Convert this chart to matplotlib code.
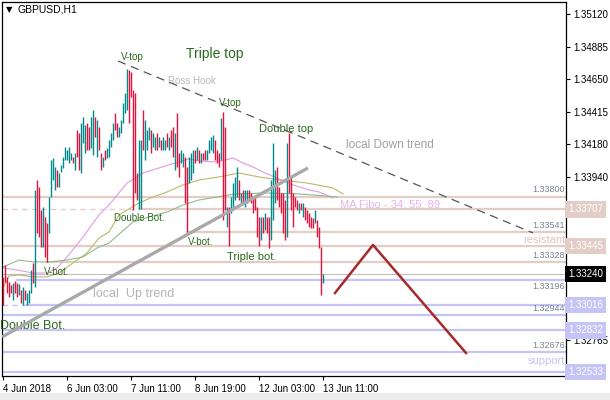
import matplotlib
matplotlib.use('Agg')
import matplotlib.pyplot as plt
import matplotlib.transforms as mtransforms
from matplotlib.patches import Rectangle

plt.rcParams['font.family'] = ['Liberation Sans', 'DejaVu Sans']
plt.rcParams['lines.scale_dashes'] = False

# H1 bars, GBPUSD
bar_dir = list("rrrrrtrrtr" "trtttrtrrr" "trrttttrtt" "tttttrtrrt" "ttrrttrtrr"
               "trttttrrtt" "tttrrrrrtt" "rtttrttrtr" "ttrtrrtrrt" "trrtttrtrt"
               "rrttttrrrt" "rrtrttttrt" "rttrrrrrrt" "rtrrtttrrr" "rrtrrrrrtr"
               "trrrrrtrrr" "t")

highs = [1.33219, 1.33305, 1.33219, 1.33182, 1.33161, 1.33175, 1.33190, 1.33175, 1.33168, 1.33125,
         1.33146, 1.33125, 1.33103, 1.33125, 1.33269, 1.33320, 1.33848, 1.33920, 1.33869, 1.33703,
         1.33725, 1.33652, 1.33609, 1.33797, 1.34064, 1.34079, 1.34014, 1.33992, 1.33970, 1.34028,
         1.34086, 1.34158, 1.34137, 1.34158, 1.34115, 1.34086, 1.34115, 1.34281, 1.34260, 1.34332,
         1.34375, 1.34318, 1.34332, 1.34303, 1.34375, 1.34426, 1.34375, 1.34354, 1.34303, 1.34115,
         1.34086, 1.34137, 1.34151, 1.34209, 1.34260, 1.34332, 1.34404, 1.34332, 1.34303, 1.34354,
         1.34477, 1.34549, 1.34722, 1.34715, 1.34701, 1.34571, 1.34549, 1.33970, 1.34209, 1.34209,
         1.34426, 1.34354, 1.34281, 1.34303, 1.34281, 1.34260, 1.34231, 1.34260, 1.34231, 1.34209,
         1.34231, 1.34209, 1.34260, 1.34231, 1.34281, 1.34303, 1.34260, 1.34404, 1.34115, 1.34137,
         1.34115, 1.34086, 1.34014, 1.34086, 1.34115, 1.34137, 1.34137, 1.34158, 1.34137, 1.34115,
         1.34115, 1.34137, 1.34137, 1.34209, 1.34231, 1.34245, 1.34209, 1.34137, 1.34115, 1.34368,
         1.34411, 1.34303, 1.33725, 1.33725, 1.33797, 1.33898, 1.33942, 1.34014, 1.33920, 1.33826,
         1.33848, 1.33848, 1.33848, 1.33848, 1.33826, 1.33797, 1.33797, 1.33725, 1.33652, 1.33652,
         1.33652, 1.33681, 1.33652, 1.33652, 1.33920, 1.34187, 1.33992, 1.34014, 1.33869, 1.33826,
         1.33826, 1.33775, 1.34187, 1.34260, 1.33942, 1.33826, 1.33797, 1.33775, 1.33754, 1.33754,
         1.33754, 1.33725, 1.33703, 1.33681, 1.33652, 1.33645, 1.33703, 1.33631, 1.33580, 1.33435,
         1.33240]

lows = [1.33016, 1.33182, 1.33103, 1.33074, 1.33103, 1.33052, 1.33103, 1.33074, 1.33088, 1.33031,
        1.33016, 1.33052, 1.33016, 1.33031, 1.33103, 1.33175, 1.33146, 1.33537, 1.33508, 1.33435,
        1.33435, 1.33363, 1.33328, 1.33537, 1.33797, 1.33920, 1.33848, 1.33869, 1.33869, 1.33978,
        1.34007, 1.34064, 1.34064, 1.34043, 1.34064, 1.34043, 1.33992, 1.34086, 1.33992, 1.33970,
        1.34187, 1.34115, 1.34137, 1.34137, 1.34151, 1.34101, 1.34231, 1.34086, 1.34137, 1.33992,
        1.34014, 1.34064, 1.34079, 1.34086, 1.34158, 1.34209, 1.34281, 1.34231, 1.34231, 1.34260,
        1.34332, 1.34404, 1.34426, 1.34332, 1.34520, 1.33703, 1.33826, 1.33775, 1.33707, 1.33707,
        1.34137, 1.34064, 1.34137, 1.34209, 1.34115, 1.34158, 1.34137, 1.34137, 1.34158, 1.34137,
        1.34137, 1.34137, 1.34158, 1.34137, 1.34158, 1.34086, 1.33992, 1.34014, 1.33942, 1.34043,
        1.34014, 1.33754, 1.33541, 1.33898, 1.33920, 1.33970, 1.34043, 1.34064, 1.34043, 1.34043,
        1.34064, 1.34064, 1.34064, 1.34115, 1.34137, 1.34115, 1.34064, 1.34043, 1.34014, 1.34064,
        1.33631, 1.33703, 1.33580, 1.33445, 1.33681, 1.33703, 1.33775, 1.33797, 1.33775, 1.33754,
        1.33754, 1.33725, 1.33754, 1.33775, 1.33754, 1.33681, 1.33703, 1.33508, 1.33445, 1.33486,
        1.33537, 1.33558, 1.33537, 1.33425, 1.33486, 1.33631, 1.33754, 1.33775, 1.33725, 1.33681,
        1.33537, 1.33486, 1.33508, 1.33826, 1.33703, 1.33580, 1.33725, 1.33703, 1.33681, 1.33703,
        1.33652, 1.33631, 1.33609, 1.33580, 1.33573, 1.33573, 1.33609, 1.33508, 1.33428, 1.33088,
        1.33175]

# moving averages 34 / 55 / 89 (read at a few bars)
ma34_bar = [0, 7, 15, 22, 27, 32, 40, 48, 53, 62, 70, 78, 88, 93, 98, 107, 115, 120, 125, 131, 137, 145, 153, 158, 165]
ma34_val = [1.33284, 1.33269, 1.33247, 1.33247, 1.33284, 1.33363, 1.33508, 1.33667, 1.33739, 1.33898, 1.33970,
            1.34007, 1.34050, 1.34072, 1.34057, 1.34050, 1.34079, 1.34043, 1.34014, 1.33970, 1.33934, 1.33884,
            1.33848, 1.33833, 1.33790]
ma55_bar = [0, 3, 8, 15, 22, 28, 35, 42, 48, 53, 58, 68, 75, 82, 90, 98, 108, 118, 128, 138, 152, 165, 170]
ma55_val = [1.33139, 1.33226, 1.33233, 1.33219, 1.33219, 1.33247, 1.33320, 1.33392, 1.33500, 1.33544, 1.33667,
            1.33754, 1.33797, 1.33833, 1.33884, 1.33920, 1.33942, 1.33970, 1.33942, 1.33920, 1.33898, 1.33862,
            1.33819]
ma89_bar = [0, 8, 15, 23, 32, 40, 47, 53, 65, 73, 82, 90, 98, 107, 116, 131, 148, 161, 167]
ma89_val = [1.33291, 1.33341, 1.33327, 1.33327, 1.33341, 1.33363, 1.33428, 1.33464, 1.33616, 1.33652, 1.33688,
            1.33739, 1.33775, 1.33797, 1.33819, 1.33826, 1.33819, 1.33804, 1.33797]

# drawn objects
down_bar = [57.5, 265]
down_val = [1.34780, 1.33537]
up_bar = [-0.5, 152.5]
up_val = [1.32785, 1.34007]
zig_bar = [166, 185, 231.5]
zig_val = [1.33103, 1.33450, 1.32669]

res_levels = [1.33800, 1.33541, 1.33445, 1.33328]
res_start = [-0.5, 92, -0.5, 22]
sup_levels = [1.33196, 1.32944, 1.32832, 1.32676, 1.32533]
sup_start = [7, -0.5, -0.5, -0.5, -0.5]
dbl_bot_top = 1.33707
dbl_bot_low = 1.33016
bid = 1.33240

# level captions drawn over the lines (+1 above, -1 below)
cap_levels = [1.33800, 1.33541, 1.33328, 1.33196, 1.32944, 1.32676]
cap_side = [1, 1, 1, -1, 1, 1]

price_ticks = [1.35120, 1.34885, 1.34650, 1.34415, 1.34180, 1.33940, 1.33705, 1.33470, 1.33235, 1.33000, 1.32765]
hidden_ticks = [1.33705, 1.33470, 1.33235, 1.33000]
time_ticks = [0, 32, 64, 96, 128, 160]
time_labels = ['4 Jun 2018', '6 Jun 03:00', '7 Jun 11:00', '8 Jun 19:00', '12 Jun 03:00', '13 Jun 11:00']

res_col = '#e3cdc7'
sup_col = '#c4c4f6'
note_col = '#2a6a1c'

fig = plt.figure(figsize=(6.1, 4.0), dpi=100)
fig.patches.append(Rectangle((0, 0), 1, 7 / 400, transform=fig.transFigure, fc='#ececec', ec='none'))
ax = fig.add_axes([2 / 610, 24 / 400, 564 / 610, 374 / 400])
ax.set_xlim(-0.5, 281.5)
ax.set_ylim(1.325025, 1.352068)

end = 281.5
# horizontal levels
for lv, st in zip(res_levels, res_start):
    ax.plot([st, end], [lv, lv], color=res_col, lw=1.6, zorder=1)
ax.plot([-0.5, 68], [dbl_bot_top] * 2, color=res_col, lw=1.0, ls=(0, (4, 3)), zorder=1)
ax.plot([68, end], [dbl_bot_top] * 2, color=res_col, lw=1.6, zorder=1)
for lv, st in zip(sup_levels, sup_start):
    ax.plot([st, end], [lv, lv], color=sup_col, lw=1.6, zorder=1)
ax.plot([-0.5, 12], [dbl_bot_low] * 2, color=sup_col, lw=1.0, ls=(0, (4, 3)), zorder=1)
ax.plot([12, end], [dbl_bot_low] * 2, color=sup_col, lw=1.6, zorder=1)
ax.axhline(bid, color='#c0c0c0', lw=0.8, zorder=1)

# moving averages
ax.plot(ma34_bar, ma34_val, color='#e29be2', lw=0.8, zorder=2)
ax.plot(ma55_bar, ma55_val, color='#bdb76b', lw=0.8, zorder=2)
ax.plot(ma89_bar, ma89_val, color='#8fbc8f', lw=0.8, zorder=2)

# bars
idx = list(range(len(highs)))
cols = ['#008b8b' if d == 't' else '#e8103c' for d in bar_dir]
ax.vlines(idx, lows, highs, colors=cols, lw=1.0, zorder=3)

# trend lines
ax.plot(up_bar, up_val, color='#a9a9a9', lw=2.4, zorder=4, solid_capstyle='butt')
ax.plot(down_bar, down_val, color='#555555', lw=0.9, ls=(0, (6, 4)), zorder=4)
ax.plot(zig_bar, zig_val, color='#a52a2a', lw=1.8, zorder=4)

# annotations
ax.text(59, 1.34809, 'V-top', color=note_col, fontsize=7, va='center')
ax.text(91.5, 1.34831, 'Triple top', color=note_col, fontsize=10, va='center')
ax.text(82.5, 1.34636, 'Ross Hook', color='#b8b8b8', fontsize=7, va='center')
ax.text(108, 1.34477, 'V-top', color=note_col, fontsize=7, va='center')
ax.text(128, 1.34289, 'Double top', color=note_col, fontsize=8, va='center')
ax.text(171.5, 1.34173, 'local Down trend', color='#a0a0a0', fontsize=8.5, va='center')
ax.text(168.5, 1.33745, 'MA Fibo - 34; 55; 89', color='#e6b2e6', fontsize=8, va='center')
ax.text(55.5, 1.33645, 'Double Bot.', color=note_col, fontsize=7, va='center')
ax.text(92.5, 1.33472, 'V-bot.', color=note_col, fontsize=7, va='center')
ax.text(112, 1.33363, 'Triple bot.', color=note_col, fontsize=8, va='center')
ax.text(20.5, 1.33255, 'V-bot.', color=note_col, fontsize=7, va='center')
ax.text(45, 1.33096, 'local  Up trend', color='#b4b4b4', fontsize=9, va='center')
ax.text(-1.5, 1.32864, 'Double Bot.', color=note_col, fontsize=9, va='center')
ax.text(281, 1.33486, 'resistant', color='#e0c4bc', fontsize=8, va='center', ha='right')
ax.text(281, 1.32611, 'support', color='#c4c4f0', fontsize=8, va='center', ha='right')
for lv, side in zip(cap_levels, cap_side):
    ax.text(281, lv + side * 0.00048, f'{lv:.5f}', color='#7a8494', fontsize=6.5, va='center', ha='right')

# axes look
for s in ax.spines.values():
    s.set_color('black')
    s.set_linewidth(0.9)
ax.yaxis.tick_right()
ax.set_yticks(price_ticks)
ax.set_yticklabels(['' if p in hidden_ticks else f'{p:.5f}' for p in price_ticks])
ax.tick_params(axis='y', length=3, pad=2, labelsize=7, direction='out')
ax.set_xticks(time_ticks)
ax.set_xticklabels(time_labels, ha='left')
ax.tick_params(axis='x', length=3, pad=3, labelsize=7, direction='out')

trans = mtransforms.blended_transform_factory(ax.transAxes, ax.transData)
boxes = [(1.33707, res_col, 'white'), (1.33445, res_col, 'white'), (bid, 'black', 'white'),
         (1.33016, sup_col, 'white'), (1.32832, sup_col, 'white'), (1.32533, sup_col, 'white')]
for lv, fc, tc in boxes:
    ax.text(1.004, lv, f'{lv:.5f}', transform=trans, color=tc, fontsize=7, va='center', ha='left',
            bbox=dict(boxstyle='square,pad=0.32', fc=fc, ec='none'), clip_on=False, zorder=10)

fig.text(6 / 610, 1 - 10 / 400, '\u25bc', fontsize=6, va='center', ha='left', family=['DejaVu Sans'])
fig.text(17 / 610, 1 - 10 / 400, 'GBPUSD,H1', fontsize=7.5, va='center', ha='left')

plt.savefig('out.png', dpi=100)
